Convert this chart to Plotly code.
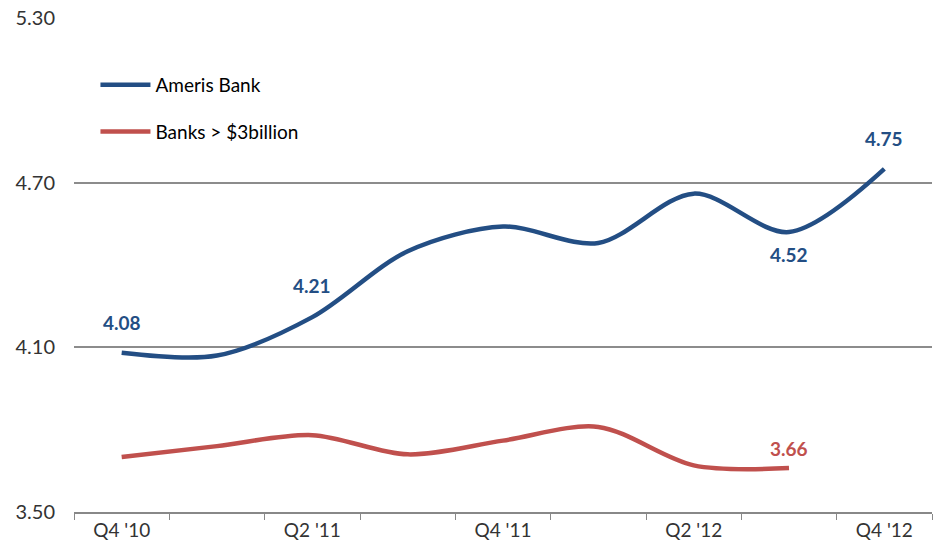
import plotly.graph_objects as go

quarters = ["Q4 '10", "Q1 '11", "Q2 '11", "Q3 '11", "Q4 '11", "Q1 '12", "Q2 '12", "Q3 '12", "Q4 '12"]
ameris = [4.08, 4.07, 4.21, 4.45, 4.54, 4.48, 4.66, 4.52, 4.75]
banks = [3.70, 3.74, 3.78, 3.71, 3.76, 3.81, 3.67, 3.66, None]
tick_labels = ["Q4 '10", "", "Q2 '11", "", "Q4 '11", "", "Q2 '12", "", "Q4 '12"]

# labelled points: (index, vertical offset in px)
ameris_labels = [(0, 30), (2, 32), (7, -22), (8, 30)]
banks_labels = [(7, 20)]

blue = "#234E84"
red = "#C0504D"
FONT = "Lato"

fig = go.Figure()
fig.add_trace(go.Scatter(x=quarters, y=ameris, mode="lines", name="Ameris Bank",
                         line=dict(color=blue, width=4.5, shape="spline", smoothing=0.9),
                         legendgroup="a"))
fig.add_trace(go.Scatter(x=quarters, y=banks, mode="lines", name="Banks > $3billion",
                         line=dict(color=red, width=4.5, shape="spline", smoothing=0.9),
                         legendgroup="b"))

for i, s in ameris_labels:
    fig.add_annotation(x=quarters[i], y=ameris[i], text=f"<b>{ameris[i]:.2f}</b>", showarrow=False,
                       yshift=s, font=dict(family=FONT, size=19, color=blue))
for i, s in banks_labels:
    fig.add_annotation(x=quarters[i], y=banks[i], text=f"<b>{banks[i]:.2f}</b>", showarrow=False,
                       yshift=s, font=dict(family=FONT, size=19, color=red))

fig.update_layout(
    width=934, height=547,
    margin=dict(l=74, r=2, t=18, b=35),
    plot_bgcolor="white", paper_bgcolor="white",
    font=dict(family=FONT, size=19, color="#333333"),
    showlegend=True,
    legend=dict(x=0.025, y=0.903, xanchor="left", yanchor="top", bgcolor="rgba(0,0,0,0)",
                font=dict(family=FONT, size=19, color="#000000"),
                tracegroupgap=19, traceorder="grouped", itemwidth=50),
    xaxis=dict(type="category", categoryarray=quarters, tickvals=quarters, ticktext=tick_labels,
               tickson="boundaries", ticks="outside", ticklen=6, tickcolor="#888888",
               showline=True, linecolor="#888888", linewidth=1.5, showgrid=False,
               range=[-0.5, 8.5], tickfont=dict(family=FONT, size=19, color="#333333")),
    yaxis=dict(range=[3.5, 5.3], tickvals=[3.5, 4.1, 4.7, 5.3], tickformat=".2f",
               showgrid=True, gridcolor="#8C8C8C", gridwidth=1.5, zeroline=False,
               showline=False, ticks="", ticklabelstandoff=18,
               tickfont=dict(family=FONT, size=20, color="#333333")),
)

fig.write_html("out.html")
